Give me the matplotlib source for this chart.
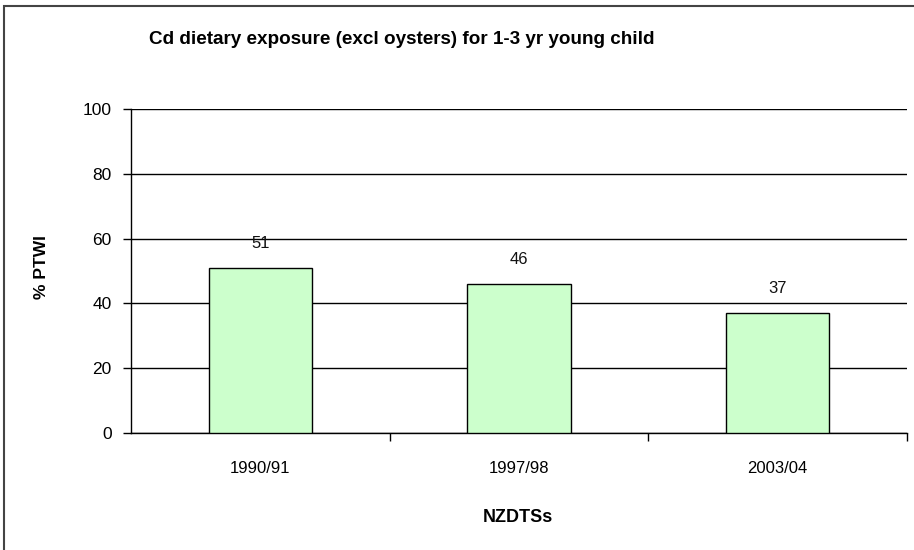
import matplotlib
matplotlib.use("Agg")
import matplotlib.pyplot as plt
from matplotlib.patches import Rectangle

categories = ["1990/91", "1997/98", "2003/04"]
values = [51, 46, 37]
y_ticks = [0, 20, 40, 60, 80, 100]

plt.rcParams['font.family'] = ['Liberation Sans', 'DejaVu Sans']

W, H = 914, 550
fig = plt.figure(figsize=(W / 100, H / 100), dpi=100)
ax = fig.add_axes([131 / W, 1 - 433 / H, (907 - 131) / W, (433 - 109) / H])

x = list(range(len(categories)))
bars = ax.bar(x, values, width=0.4, color="#ccffcc", edgecolor="black", linewidth=1.0, zorder=3)
for xi, v in zip(x, values):
    ax.annotate(str(v), (xi, v), xytext=(0, 12), textcoords="offset points",
                ha="center", va="bottom", fontsize=12, color="#111111", zorder=4)

ax.set_xlim(-0.5, len(categories) - 0.5)
ax.set_ylim(0, 100)
ax.set_yticks(y_ticks)
ax.set_yticklabels([str(t) for t in y_ticks], fontsize=12.5)
ax.yaxis.grid(True, color="black", linewidth=1.0, zorder=0)
ax.set_axisbelow(True)

ax.set_xticks([i + 0.5 for i in range(len(categories))])
ax.set_xticklabels([])
ax.set_xticks(x, minor=True)
ax.set_xticklabels(categories, minor=True, fontsize=12)
ax.tick_params(axis="x", which="minor", length=0, pad=20)
ax.tick_params(axis="x", which="major", length=6, direction="out", width=1)
ax.tick_params(axis="y", length=6, direction="out", width=1, pad=8)

for s in ["top", "right"]:
    ax.spines[s].set_visible(False)
for s in ["left", "bottom"]:
    ax.spines[s].set_linewidth(1.0)

fig.text(402 / W, 1 - 40 / H, "Cd dietary exposure (excl oysters) for 1-3 yr young child",
         ha="center", va="center", fontsize=13.6, fontweight="bold")
fig.text(42 / W, 1 - 267 / H, "% PTWI", rotation=90, ha="center", va="center",
         fontsize=12.5, fontweight="bold")
fig.text(518 / W, 1 - 517 / H, "NZDTSs", ha="center", va="center",
         fontsize=13, fontweight="bold")

fig.patches.append(Rectangle((4 / W, -0.05), 1.1, 1 - 6 / H + 0.05, transform=fig.transFigure,
                             fill=False, edgecolor="#444444", linewidth=1.5))

fig.savefig("out.png", dpi=100)
